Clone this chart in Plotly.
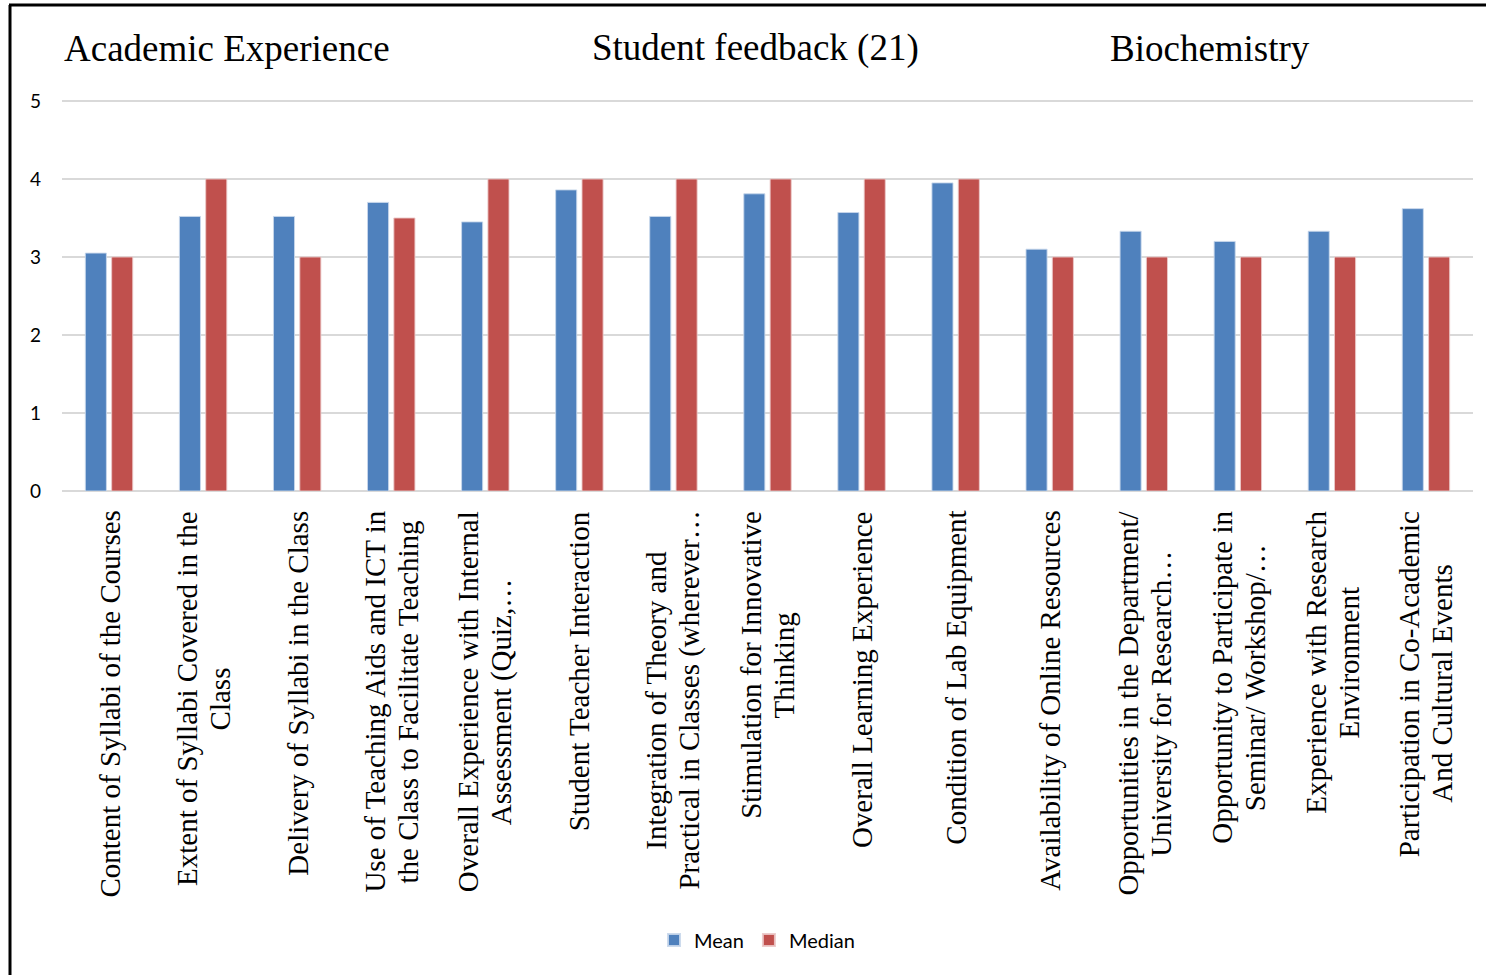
import plotly.graph_objects as go

categories = [
    "Content of Syllabi of the Courses",
    "Extent of Syllabi Covered in the Class",
    "Delivery of Syllabi in the Class",
    "Use of Teaching Aids and ICT in the Class to Facilitate Teaching",
    "Overall Experience with Internal Assessment (Quiz,…",
    "Student Teacher Interaction",
    "Integration of Theory and Practical in Classes (wherever…",
    "Stimulation for Innovative Thinking",
    "Overall Learning Experience",
    "Condition of Lab Equipment",
    "Availability of Online Resources",
    "Opportunities in the Department/ University for Research…",
    "Opportunity to Participate in Seminar/ Workshop/…",
    "Experience with Research Environment",
    "Participation in Co-Academic And Cultural Events",
]
tick_labels = [
    "Content of Syllabi of the Courses",
    "Extent of Syllabi Covered in the<br>Class",
    "Delivery of Syllabi in the Class",
    "Use of Teaching Aids and ICT in<br>the Class to Facilitate Teaching",
    "Overall Experience with Internal<br>Assessment (Quiz,…",
    "Student Teacher Interaction",
    "Integration of Theory and<br>Practical in Classes (wherever…",
    "Stimulation for Innovative<br>Thinking",
    "Overall Learning Experience",
    "Condition of Lab Equipment",
    "Availability of Online Resources",
    "Opportunities in the Department/<br>University for Research…",
    "Opportunity to Participate in<br>Seminar/ Workshop/…",
    "Experience with Research<br>Environment",
    "Participation in Co-Academic<br>And Cultural Events",
]
mean_values = [3.05, 3.52, 3.52, 3.70, 3.45, 3.86, 3.52, 3.81, 3.57, 3.95, 3.10, 3.33, 3.20, 3.33, 3.62]
median_values = [3, 4, 3, 3.5, 4, 4, 4, 4, 4, 4, 3, 3, 3, 3, 3]
y_ticks = [0, 1, 2, 3, 4, 5]
title_parts = ["Academic Experience", "Student feedback (21)", "Biochemistry"]

W, H = 1486, 975
L, R, T, B = 62, 13, 99, 484
PW, PH = W - L - R, H - T - B
Y_MAX = PH / 78.0


def px_x(x):
    return (x - L) / PW


def px_y(y):
    return (H - B - y) / PH


fig = go.Figure()
fig.add_trace(go.Bar(
    x=categories, y=mean_values, name="Mean",
    marker=dict(color="#4F81BD", line=dict(color="rgba(200,215,235,0.9)", width=1)),
))
fig.add_trace(go.Bar(
    x=categories, y=median_values, name="Median",
    marker=dict(color="#C0504D", line=dict(color="rgba(235,200,200,0.9)", width=1)),
))

serif = "Liberation Serif, Times New Roman, serif"
sans = "Lato, Open Sans, sans-serif"
LABEL_SIZE = 29
WANT_SPACING = 33.0
hidden = '<span style="color:rgba(0,0,0,0)">{}</span>'

annotations = []
for cat, lab in zip(categories, tick_labels):
    lines = lab.split("<br>")
    n = len(lines)
    natural = 1.3 * LABEL_SIZE
    for i in range(n):
        parts = [ln if j == i else hidden.format(ln) for j, ln in enumerate(lines)]
        offset_nat = (i - (n - 1) / 2) * natural
        offset_want = (i - (n - 1) / 2) * WANT_SPACING
        annotations.append(dict(
            x=cat, xref="x", y=px_y(509), yref="paper",
            text="<br>".join(parts), textangle=-90, showarrow=False,
            xanchor="center", yanchor="top", align="center",
            xshift=offset_want - offset_nat,
            font=dict(family=serif, size=LABEL_SIZE, color="black"),
        ))

title_pos = [(62, "left"), (755, "center"), (1210, "center")]
for txt, (xp, anc) in zip(title_parts, title_pos):
    annotations.append(dict(
        x=px_x(xp), xref="paper", y=px_y(48), yref="paper",
        text=txt, showarrow=False, xanchor=anc, yanchor="middle",
        font=dict(family=serif, size=37, color="black"),
    ))

shapes = [
    dict(type="line", xref="paper", yref="paper",
         x0=px_x(10), x1=px_x(10), y0=px_y(5), y1=px_y(980),
         line=dict(color="black", width=3)),
    dict(type="line", xref="paper", yref="paper",
         x0=px_x(9), x1=px_x(1490), y0=px_y(5), y1=px_y(5),
         line=dict(color="black", width=3)),
]

fig.update_layout(
    width=W, height=H,
    margin=dict(l=L, r=R, t=T, b=B, pad=0),
    paper_bgcolor="white", plot_bgcolor="white",
    barmode="group", bargap=0.44, bargroupgap=0.2,
    annotations=annotations, shapes=shapes,
    legend=dict(
        orientation="h", x=px_x(757), xanchor="center",
        y=px_y(940), yanchor="middle",
        font=dict(family=sans, size=20, color="black"),
        itemsizing="constant",
    ),
    xaxis=dict(showticklabels=False, showgrid=False, showline=False, zeroline=False, ticks=""),
    yaxis=dict(
        range=[0, Y_MAX], tickvals=y_ticks, showgrid=True,
        gridcolor="#D9D9D9", gridwidth=2, zeroline=True,
        zerolinecolor="#D9D9D9", zerolinewidth=2, showline=False,
        tickfont=dict(family=sans, size=19, color="black"),
        ticklabelstandoff=20,
    ),
)

fig.write_html(
    "out.html",
    config={"displayModeBar": False},
    post_script="document.body.style.margin='0';document.body.style.padding='0';",
)
